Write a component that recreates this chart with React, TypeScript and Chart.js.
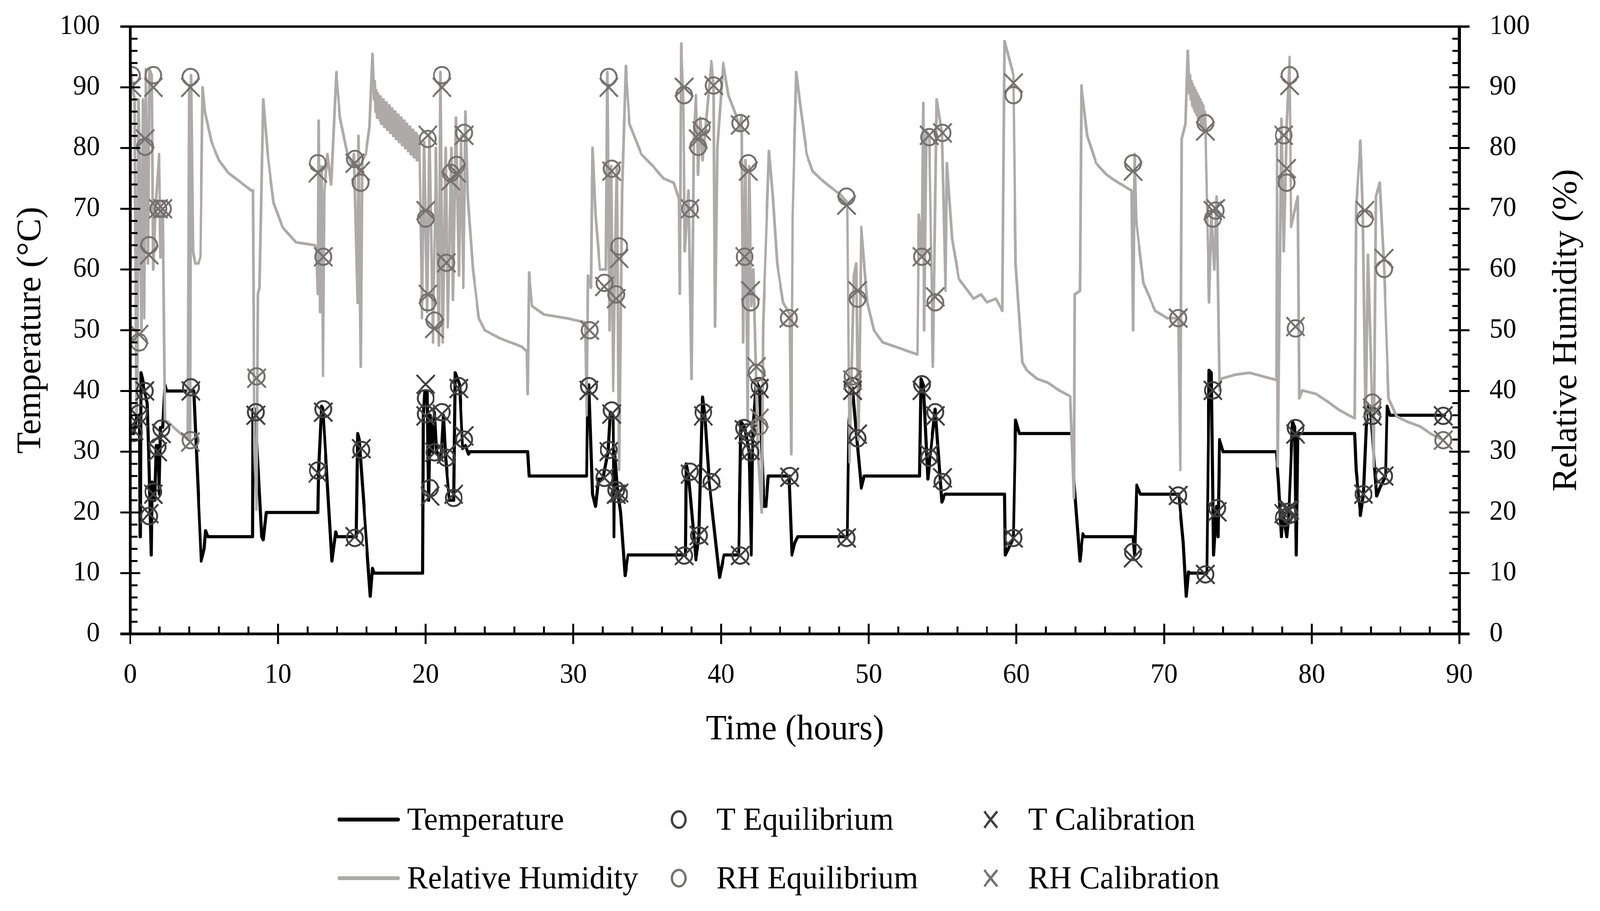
import { useEffect, useRef } from "react"
import { Chart, registerables } from "chart.js"

Chart.register(...registerables)

// [hours, °C]
const temperature: [number, number][] = [
  [0, 33], [0.25, 33], [0.45, 36], [0.62, 36], [0.66, 16], [0.68, 16], [0.72, 43], [0.82, 42],
  [0.95, 40], [1.15, 38], [1.25, 30], [1.42, 13], [1.48, 25], [1.55, 23.5], [1.65, 22], [1.75, 31],
  [1.88, 31], [1.95, 23], [2.05, 34], [2.2, 34], [2.35, 41], [2.45, 40], [4.2, 40], [4.3, 40],
  [4.8, 12], [5.0, 14], [5.1, 17], [5.25, 16], [8.27, 16], [8.3, 37], [8.45, 37], [8.9, 16],
  [9.0, 15.5], [9.2, 20], [9.35, 20], [12.7, 20], [12.75, 27], [12.95, 37.5], [13.05, 37],
  [13.65, 12], [13.9, 16.8], [14.0, 16], [15.3, 16], [15.4, 33], [15.5, 32], [16.25, 6.2],
  [16.4, 10.8], [16.5, 10], [19.8, 10], [19.85, 36], [19.95, 40], [20.1, 40], [20.2, 22],
  [20.3, 36], [20.45, 30], [20.6, 36.5], [20.75, 30], [21.05, 29], [21.2, 36], [21.35, 29],
  [21.6, 22], [21.9, 22], [22.0, 43], [22.3, 41], [22.5, 30.5], [22.7, 31], [22.9, 29.6],
  [23.0, 30], [26.9, 30], [27.0, 26], [30.9, 26], [30.95, 37], [31.05, 41], [31.3, 23],
  [31.5, 21], [31.7, 25.5], [32.0, 25.5], [32.35, 30], [32.5, 36.5], [32.7, 36], [32.75, 16],
  [32.8, 30], [33.0, 23.5], [33.2, 20], [33.5, 9.6], [33.7, 13], [37.6, 13], [37.65, 28],
  [37.8, 26], [38.3, 12.2], [38.5, 16], [38.75, 39], [38.9, 36], [39.2, 25], [39.9, 9.3],
  [40.2, 13], [41.2, 13], [41.35, 35], [41.6, 34], [41.9, 30], [42.05, 13], [42.15, 33],
  [42.4, 41.5], [42.6, 40.5], [42.9, 21], [43.05, 21], [43.2, 26], [44.6, 26], [44.8, 13],
  [45.0, 15], [45.2, 16], [48.55, 16], [48.65, 35], [48.9, 40.5], [49.2, 32], [49.5, 24],
  [49.7, 26], [53.45, 26], [53.55, 42], [53.7, 41], [54.0, 25.5], [54.5, 37], [54.95, 21.7],
  [55.15, 23], [59.2, 23], [59.25, 13], [59.8, 15.8], [59.95, 35.2], [60.2, 33], [63.8, 33],
  [63.9, 25], [64.3, 12], [64.5, 16.5], [64.6, 16], [67.9, 16], [68.0, 13], [68.15, 24.5],
  [68.4, 23], [71.0, 23], [71.3, 15], [71.5, 6.2], [71.65, 10.2], [71.75, 10], [72.9, 10],
  [73.05, 43.4], [73.2, 43], [73.35, 13], [73.55, 21], [73.65, 16], [73.75, 32], [74.0, 30],
  [77.6, 30], [77.75, 25], [77.95, 16], [78.05, 20], [78.3, 16], [78.45, 20], [78.7, 35],
  [78.85, 34], [78.95, 13], [79.05, 33], [82.9, 33], [83.0, 27], [83.3, 19.5], [83.5, 23],
  [83.75, 37.5], [84.0, 36], [84.4, 22.7], [84.6, 24], [85.0, 26], [85.1, 37.5], [85.3, 36],
  [89.0, 36],
]

// [hours, %]
const humidity: [number, number][] = [
  [0, 65], [0.04, 94], [0.15, 90], [0.3, 88], [0.42, 36], [0.48, 40], [0.55, 88], [0.62, 80],
  [0.75, 50], [0.85, 88], [0.95, 52], [1.05, 93], [1.2, 61], [1.3, 93], [1.45, 92], [1.55, 60],
  [1.7, 70], [1.95, 79], [2.05, 62], [2.2, 70], [2.35, 35], [2.5, 35], [3.4, 33], [3.9, 32],
  [4.0, 90], [4.05, 32], [4.12, 92], [4.25, 63], [4.4, 61], [4.6, 61], [4.75, 62], [4.9, 90],
  [5.05, 86], [5.5, 81], [6.0, 78], [6.6, 76], [7.4, 74.5], [8.2, 73], [8.3, 73], [8.4, 30],
  [8.55, 20.5], [8.65, 56], [8.75, 57], [9.0, 88], [9.3, 79], [9.7, 71], [10.3, 67], [11.2, 64.5],
  [12.5, 64], [12.6, 63.5], [12.7, 56], [12.75, 84.5], [12.85, 53], [12.95, 77], [13.05, 42.5],
  [13.15, 73], [13.35, 79], [13.6, 74], [13.95, 92.5], [14.2, 85], [14.7, 79], [15.05, 77],
  [15.15, 79], [15.4, 54.5], [15.45, 82], [15.6, 44], [15.7, 78], [15.95, 79], [16.2, 83.5],
  [16.4, 95.5], [16.5, 88], [16.55, 91], [16.6, 86], [16.65, 89.5], [16.7, 85], [16.75, 89],
  [16.8, 85], [16.85, 88.5], [16.9, 84.5], [16.95, 88.5], [17.0, 84], [17.05, 88], [17.1, 84],
  [17.15, 88], [17.2, 83.5], [17.25, 87.5], [17.3, 83.5], [17.35, 87.5], [17.4, 83], [17.45, 87],
  [17.5, 83], [17.55, 87], [17.6, 82.5], [17.65, 86.5], [17.7, 82.5], [17.75, 86.5], [17.8, 82],
  [17.85, 86], [17.9, 82], [17.95, 86], [18.0, 81.5], [18.05, 85.5], [18.1, 81.5], [18.15, 85.5],
  [18.2, 81], [18.25, 85], [18.3, 81], [18.35, 85], [18.4, 80.5], [18.45, 84.5], [18.5, 80.5],
  [18.55, 84.5], [18.6, 80], [18.65, 84], [18.7, 80], [18.75, 84], [18.8, 79.5], [18.85, 83.5],
  [18.9, 79.5], [18.95, 83.5], [19.0, 79], [19.05, 83], [19.1, 79], [19.15, 83], [19.2, 78.5],
  [19.25, 82.5], [19.3, 78.5], [19.35, 82.5], [19.4, 78], [19.45, 82], [19.5, 78], [19.55, 82],
  [19.6, 78], [19.75, 52],
  [19.9, 81], [20.1, 53], [20.25, 82], [20.5, 48], [20.7, 80], [20.9, 47.5], [21.0, 92.5],
  [21.15, 48], [21.35, 80], [21.5, 50.5], [21.6, 62], [21.75, 80], [21.85, 55], [22.05, 85],
  [22.25, 59], [22.4, 82], [22.55, 57], [22.7, 86], [22.85, 72], [23.2, 60], [23.6, 52],
  [24.0, 50], [25.0, 48.7], [26.5, 47.3], [26.85, 46.5], [26.9, 39.5], [27.0, 59.5], [27.2, 54],
  [28.0, 52.6], [29.5, 52], [30.8, 51.3], [30.9, 36], [31.0, 59], [31.2, 57], [31.3, 80],
  [31.5, 69], [31.8, 60], [32.2, 60], [32.3, 92.5], [32.45, 50], [32.55, 77], [32.7, 40],
  [32.85, 64], [32.95, 77], [33.1, 27], [33.3, 73], [33.55, 93.5], [33.8, 84], [34.6, 79],
  [35.4, 77], [36.1, 75], [36.8, 74.3], [37.15, 71.6], [37.2, 56], [37.3, 97.2], [37.45, 88],
  [37.55, 63], [37.8, 73], [38.0, 42], [38.15, 81], [38.3, 88.7], [38.45, 75.6], [38.6, 85],
  [38.75, 78], [39.35, 94.3], [39.5, 90], [39.6, 50.6], [39.75, 80], [40.15, 94], [40.5, 88.7],
  [41.1, 84.8], [41.25, 83], [41.4, 85.4], [41.5, 48], [41.65, 78], [41.8, 35], [41.9, 77],
  [42.05, 54], [42.2, 60], [42.5, 30], [42.75, 20], [42.85, 51], [43.25, 79.5], [43.5, 72.3],
  [43.8, 61], [44.2, 54.6], [44.65, 52.6], [44.75, 29.6], [44.85, 69], [45.1, 92.5], [45.35, 87.4],
  [45.8, 79], [46.2, 76.2], [46.7, 75], [47.4, 73.6], [48.1, 72.3], [48.55, 71], [48.7, 28.3],
  [49.0, 59], [49.15, 61], [49.3, 32], [49.5, 67], [49.9, 54.6], [50.35, 50], [50.95, 48],
  [51.8, 47.3], [53.3, 46], [53.4, 69], [53.6, 62], [53.7, 87.4], [53.75, 50], [53.9, 82.8],
  [54.1, 82], [54.35, 44], [54.6, 88], [54.95, 82.5], [55.2, 56.5], [55.3, 77.5], [55.65, 65],
  [56.1, 58.5], [56.7, 56.5], [57.1, 55.2], [57.6, 55.9], [58.0, 54.6], [58.6, 55.2], [59.05, 53.2],
  [59.2, 97.6], [59.8, 92], [59.95, 61], [60.4, 44.7], [60.7, 43.4], [61.4, 42], [62.1, 41.4],
  [62.9, 40.1], [63.65, 39.1], [63.9, 22.4], [63.95, 55.9], [64.3, 56.5], [64.4, 90.3], [64.8, 82],
  [65.4, 77.5], [66.1, 75.6], [66.9, 74.3], [67.8, 73], [67.9, 50], [68.0, 79], [68.1, 68.4],
  [68.6, 57.8], [69.4, 53.2], [70.2, 52], [70.96, 52], [71.1, 27], [71.2, 81.5], [71.45, 84],
  [71.6, 96], [71.65, 93], [71.7, 89], [71.75, 92], [71.8, 88], [71.85, 91], [71.9, 87],
  [71.95, 90.5], [72.0, 86.5], [72.05, 90], [72.1, 86], [72.15, 89.5], [72.2, 85.5], [72.25, 89],
  [72.3, 85], [72.35, 88.5], [72.4, 84.5], [72.45, 88], [72.5, 84], [72.55, 87.5], [72.6, 83.5],
  [72.65, 87], [72.7, 83], [72.75, 86], [72.8, 83.4], [73.05, 54.6], [73.2, 69], [73.4, 60],
  [73.55, 72], [73.75, 40.1], [73.85, 42], [74.85, 42.7], [75.8, 43], [76.7, 42.4], [77.6, 41.8],
  [77.65, 81.5], [77.7, 27.6], [77.95, 84.8], [78.1, 63], [78.3, 84], [78.5, 95], [78.6, 67],
  [79.05, 72], [79.15, 38.8], [79.35, 40.1], [80.3, 39.5], [81.1, 38.2], [81.9, 36.8], [82.9, 35.5],
  [83.0, 70.3], [83.3, 81.2], [83.45, 70], [83.65, 35], [83.8, 62.4], [84.2, 27.6], [84.35, 72],
  [84.6, 74.3], [84.9, 60], [85.2, 38.8], [85.75, 35.8], [86.5, 34.9], [87.3, 34.2], [88.1, 32.9],
  [88.9, 31.9],
]

const tEquilibrium: [number, number][] = [
  [0.24, 33.1], [0.59, 36.3], [0.98, 40], [1.27, 19.4], [1.56, 23.4], [1.85, 30.8], [2.1, 33.8],
  [4.1, 40.6], [8.5, 36.5], [12.7, 26.9], [13.07, 37], [15.2, 15.8], [15.65, 30.3], [20.0, 38.8],
  [20.0, 36.2], [20.3, 24], [20.6, 29.9], [21.1, 36.5], [21.4, 29], [21.9, 22.4], [22.25, 40.8],
  [22.6, 32], [31.05, 40.8], [32.1, 25.7], [32.4, 30.3], [32.6, 36.8], [32.9, 23.7], [33.1, 23],
  [37.5, 12.9], [37.9, 26.7], [38.5, 16.2], [38.8, 36.5], [39.35, 25], [41.3, 12.9], [41.55, 33.9],
  [41.8, 33.2], [42.0, 29.9], [42.6, 40.8], [44.65, 26], [48.5, 15.8], [48.9, 40.8], [49.25, 32.2],
  [53.6, 41.1], [54.1, 29], [54.5, 36.5], [55.0, 25], [59.8, 15.8], [67.9, 13.5], [70.96, 22.8],
  [72.8, 9.8], [73.3, 40.1], [73.6, 20.7], [78.1, 19.1], [78.35, 20.1], [78.5, 19.6], [78.9, 33.9],
  [83.5, 23], [84.1, 35.9], [84.9, 26], [88.9, 35.9],
]

const tCalibration: [number, number][] = [
  [0.24, 33.5], [0.59, 35.6], [0.98, 40], [1.27, 19.8], [1.56, 23], [1.85, 30], [2.1, 33],
  [4.1, 40], [8.5, 36], [12.7, 26.5], [13.07, 36.5], [15.2, 16], [15.65, 30.5], [20.0, 41.1],
  [20.0, 35.9], [20.3, 22.7], [20.6, 29.9], [21.1, 36.2], [21.4, 29.6], [21.9, 23], [22.25, 40.4],
  [22.6, 32.6], [31.05, 40.1], [32.1, 25.7], [32.4, 30], [32.6, 36.2], [32.9, 23], [33.1, 23.2],
  [37.5, 12.9], [37.9, 26.3], [38.5, 16.2], [38.8, 35.9], [39.35, 25.7], [41.3, 12.9], [41.55, 33.6],
  [41.8, 32.9], [42.0, 30.2], [42.6, 40.4], [44.65, 25.8], [48.5, 15.8], [48.9, 40.1], [49.25, 32.9],
  [53.6, 40.1], [54.1, 29.6], [54.5, 35.9], [55.0, 25.7], [59.8, 15.8], [67.9, 12.5], [70.96, 22.8],
  [72.8, 9.8], [73.3, 40.1], [73.6, 20.1], [78.1, 19.8], [78.35, 20.4], [78.5, 20.4], [78.9, 32.9],
  [83.5, 23], [84.1, 35.9], [84.9, 26], [88.9, 35.9],
]

const rhEquilibrium: [number, number][] = [
  [0.1, 92], [0.6, 48], [1.0, 80.2], [1.27, 64], [1.56, 92], [1.9, 70], [2.2, 70], [4.07, 91.7],
  [4.07, 31.9], [8.55, 42.4], [12.7, 77.5], [13.07, 62.1], [15.2, 78.2], [15.6, 74.3], [20.0, 68.4],
  [20.15, 81.5], [20.15, 54.6], [20.6, 51.6], [21.1, 92], [21.4, 61.1], [21.7, 75.9], [22.1, 77.2],
  [22.6, 82.5], [31.1, 50], [32.1, 57.8], [32.4, 91.7], [32.6, 76.6], [32.9, 55.9], [33.1, 63.8],
  [37.5, 88.7], [37.9, 70], [38.45, 80.2], [38.7, 83.5], [39.5, 90.3], [41.3, 84.1], [41.6, 62.1],
  [41.85, 77.5], [42.0, 54.6], [42.4, 43], [42.6, 34.2], [44.6, 52], [48.5, 72], [48.9, 42.4],
  [49.25, 55.2], [53.6, 62.1], [54.1, 81.8], [54.5, 54.6], [55.0, 82.5], [59.8, 88.7], [67.9, 77.5],
  [70.96, 52], [72.8, 84.1], [73.3, 68.4], [73.5, 69.7], [78.1, 82.1], [78.3, 74.3], [78.5, 92],
  [78.9, 50.3], [83.6, 68.4], [84.1, 38.1], [84.9, 60.1], [88.9, 31.9],
]

const rhCalibration: [number, number][] = [
  [0.1, 90], [0.6, 49.3], [1.0, 81.5], [1.27, 62.4], [1.56, 90], [1.9, 70], [2.2, 70], [4.07, 90],
  [4.07, 31.6], [8.55, 42.1], [12.7, 75.9], [13.07, 62.1], [15.2, 77.5], [15.6, 76.2], [20.0, 69.7],
  [20.15, 82.1], [20.15, 55.9], [20.6, 50.3], [21.1, 90], [21.4, 61.1], [21.7, 74.6], [22.1, 75.9],
  [22.6, 82.1], [31.1, 50], [32.1, 57.2], [32.4, 90], [32.6, 76.2], [32.9, 55.2], [33.1, 61.8],
  [37.5, 90], [37.9, 70], [38.45, 81.5], [38.7, 82.8], [39.5, 90.3], [41.3, 83.8], [41.6, 62.1],
  [41.85, 76.2], [42.0, 56.5], [42.4, 44], [42.6, 35.5], [44.6, 52], [48.5, 70.6], [48.9, 41.8],
  [49.25, 56.5], [53.6, 62.1], [54.1, 82.1], [54.5, 55.5], [55.0, 82.5], [59.8, 90.7], [67.9, 76.2],
  [70.96, 52], [72.8, 82.8], [73.3, 69.7], [73.5, 70], [78.1, 82.1], [78.3, 76.6], [78.5, 90.3],
  [78.9, 50.6], [83.6, 69.7], [84.1, 37.2], [84.9, 61.8], [88.9, 31.9],
]

const FONT = "'Liberation Serif', 'Times New Roman', serif"
const T_COLOR = "#000000"
const RH_COLOR = "#aeaaaa"
const T_MARK = "#404040"
const RH_MARK = "#767171"

// design size of the figure; the canvas is stretched to the real window with CSS
const W = 4212
const H = 2331

const toXY = (pts: [number, number][]) => pts.map(([x, y]) => ({ x, y }))

function line(ctx: CanvasRenderingContext2D, x1: number, y1: number, x2: number, y2: number) {
  ctx.beginPath()
  ctx.moveTo(x1, y1)
  ctx.lineTo(x2, y2)
  ctx.stroke()
}

// Excel-like axes: cross major ticks, inside minor ticks, top border line
const axesPlugin = {
  id: "excelAxes",
  afterDatasetsDraw(chart: any) {
    const { ctx, chartArea: a, scales } = chart
    const y = scales.y
    const x = scales.x
    ctx.save()
    ctx.strokeStyle = "#000"
    ctx.lineCap = "butt"
    ctx.lineWidth = 6
    line(ctx, a.left - 26, a.top, a.right + 27, a.top)
    ctx.lineWidth = 5
    for (let v = 0; v <= 100; v += 2) {
      const py = y.getPixelForValue(v)
      if (v % 10 === 0) {
        line(ctx, a.left - 26, py, a.left + 26, py)
        line(ctx, a.right - 27, py, a.right + 27, py)
      } else {
        line(ctx, a.left, py, a.left + 19, py)
        line(ctx, a.right - 19, py, a.right, py)
      }
    }
    for (let h = 0; h <= 90; h += 2) {
      const px = x.getPixelForValue(h)
      if (h % 10 === 0) line(ctx, px, a.bottom - 26, px, a.bottom + 26)
      else line(ctx, px, a.bottom - 19, px, a.bottom)
    }
    ctx.lineWidth = 8
    line(ctx, a.left, a.top - 3, a.left, a.bottom + 3)
    line(ctx, a.right, a.top - 3, a.right, a.bottom + 3)
    ctx.lineWidth = 7
    line(ctx, a.left - 26, a.bottom, a.right + 27, a.bottom)
    ctx.restore()
  },
  afterDraw(chart: any) {
    const { ctx, chartArea: a } = chart
    ctx.save()
    // right axis title, reading bottom-to-top like the left one
    ctx.fillStyle = "#000"
    ctx.font = `90px ${FONT}`
    ctx.textAlign = "center"
    ctx.textBaseline = "middle"
    ctx.translate(a.right + 283, (a.top + a.bottom) / 2)
    ctx.rotate(-Math.PI / 2)
    ctx.fillText("Relative Humidity (%)", 0, 0)
    ctx.restore()
  },
}

// Two-row legend under the plot
const legendPlugin = {
  id: "gridLegend",
  afterDraw(chart: any) {
    const { ctx } = chart
    const rows = [2097, 2247]
    const cols = [888, 1787, 2608]
    const items = [
      { row: 0, col: 0, kind: "line", color: T_COLOR, text: "Temperature" },
      { row: 0, col: 1, kind: "circle", color: T_MARK, text: "T Equilibrium" },
      { row: 0, col: 2, kind: "cross", color: T_MARK, text: "T Calibration" },
      { row: 1, col: 0, kind: "line", color: RH_COLOR, text: "Relative Humidity" },
      { row: 1, col: 1, kind: "circle", color: RH_MARK, text: "RH Equilibrium" },
      { row: 1, col: 2, kind: "cross", color: RH_MARK, text: "RH Calibration" },
    ]
    ctx.save()
    ctx.font = `82px ${FONT}`
    ctx.textBaseline = "alphabetic"
    ctx.textAlign = "left"
    for (const it of items) {
      const cy = rows[it.row]
      const cx = cols[it.col]
      ctx.strokeStyle = it.color
      let tx = 0
      if (it.kind === "line") {
        ctx.lineWidth = 10
        ctx.lineCap = "round"
        line(ctx, cx + 5, cy, cx + 160, cy)
        tx = cx + 184
      } else if (it.kind === "circle") {
        ctx.lineWidth = 6
        ctx.beginPath()
        ctx.ellipse(cx, cy, 18, 21, 0, 0, Math.PI * 2)
        ctx.stroke()
        tx = cx + 99
      } else {
        ctx.lineWidth = 6
        ctx.lineCap = "butt"
        line(ctx, cx - 17, cy - 21, cx + 17, cy + 21)
        line(ctx, cx - 17, cy + 21, cx + 17, cy - 21)
        tx = cx + 99
      }
      ctx.fillStyle = "#000"
      ctx.fillText(it.text, tx, cy + 26)
    }
    ctx.restore()
  },
}

// invisible tick marks: they only push the labels away from the axis
const hiddenGrid = (len: number) => ({
  display: true,
  drawOnChartArea: false,
  drawTicks: true,
  tickLength: len,
  color: "rgba(0,0,0,0)",
})

export default function App() {
  const chartRef = useRef<HTMLCanvasElement>(null)
  const chartInstance = useRef<Chart | null>(null)
  const sx = window.innerWidth / W
  const sy = window.innerHeight / H

  useEffect(() => {
    if (!chartRef.current) return
    if (chartInstance.current) chartInstance.current.destroy()
    const ctx = chartRef.current.getContext("2d")
    if (!ctx) return

    Chart.defaults.font.family = FONT
    Chart.defaults.color = "#000"

    const markerBase = {
      showLine: false,
      pointBorderWidth: 5,
      pointHoverRadius: 0,
      pointBackgroundColor: "rgba(0,0,0,0)",
    }

    chartInstance.current = new Chart(ctx, {
      type: "line",
      data: {
        datasets: [
          {
            label: "Temperature",
            data: toXY(temperature),
            yAxisID: "y",
            borderColor: T_COLOR,
            borderWidth: 8,
            pointRadius: 0,
            borderJoinStyle: "round",
            borderCapStyle: "round",
            order: 6,
          },
          {
            label: "Relative Humidity",
            data: toXY(humidity),
            yAxisID: "y2",
            borderColor: RH_COLOR,
            borderWidth: 7,
            pointRadius: 0,
            borderJoinStyle: "round",
            borderCapStyle: "round",
            order: 5,
          },
          {
            ...markerBase,
            label: "T Equilibrium",
            data: toXY(tEquilibrium),
            yAxisID: "y",
            pointStyle: "circle",
            pointRadius: 21,
            pointBorderColor: T_MARK,
            borderColor: T_MARK,
            order: 4,
          },
          {
            ...markerBase,
            label: "T Calibration",
            data: toXY(tCalibration),
            yAxisID: "y",
            pointStyle: "crossRot",
            pointRadius: 34,
            pointBorderColor: T_MARK,
            borderColor: T_MARK,
            order: 3,
          },
          {
            ...markerBase,
            label: "RH Equilibrium",
            data: toXY(rhEquilibrium),
            yAxisID: "y2",
            pointStyle: "circle",
            pointRadius: 21,
            pointBorderColor: RH_MARK,
            borderColor: RH_MARK,
            order: 2,
          },
          {
            ...markerBase,
            label: "RH Calibration",
            data: toXY(rhCalibration),
            yAxisID: "y2",
            pointStyle: "crossRot",
            pointRadius: 34,
            pointBorderColor: RH_MARK,
            borderColor: RH_MARK,
            order: 1,
          },
        ],
      },
      options: {
        animation: false,
        responsive: false,
        devicePixelRatio: 1,
        events: [],
        layout: { padding: { top: 68, bottom: 409, left: 0, right: 0 } },
        plugins: {
          legend: { display: false },
          tooltip: { enabled: false },
        },
        scales: {
          x: {
            type: "linear",
            position: "bottom",
            min: 0,
            max: 90,
            ticks: { stepSize: 10, padding: 0, font: { size: 71 }, color: "#000", maxRotation: 0 },
            grid: hiddenGrid(64),
            border: { display: false },
            title: {
              display: true,
              text: "Time (hours)",
              font: { size: 90 },
              color: "#000",
              padding: { top: 0, bottom: 0 },
            },
            afterFit: (s: any) => {
              s.height = 300
            },
          },
          y: {
            type: "linear",
            position: "left",
            min: 0,
            max: 100,
            ticks: { stepSize: 10, padding: 0, font: { size: 71 }, color: "#000" },
            grid: hiddenGrid(80),
            border: { display: false },
            title: {
              display: true,
              text: "Temperature (°C)",
              font: { size: 90 },
              color: "#000",
              padding: { top: 28, bottom: 0 },
            },
            afterFit: (s: any) => {
              s.width = 343
            },
          },
          y2: {
            type: "linear",
            position: "right",
            min: 0,
            max: 100,
            ticks: { stepSize: 10, padding: 0, font: { size: 71 }, color: "#000" },
            grid: hiddenGrid(79),
            border: { display: false },
            afterFit: (s: any) => {
              s.width = 370
            },
          },
        },
      },
      plugins: [axesPlugin, legendPlugin],
    })

    return () => {
      if (chartInstance.current) {
        chartInstance.current.destroy()
        chartInstance.current = null
      }
    }
  }, [])

  return (
    <div
      style={{
        position: "fixed",
        left: 0,
        top: 0,
        width: W,
        height: H,
        background: "#fff",
        transform: `scale(${sx}, ${sy})`,
        transformOrigin: "0 0",
      }}
    >
      <canvas ref={chartRef} width={W} height={H} style={{ width: W, height: H, display: "block" }}></canvas>
    </div>
  )
}
